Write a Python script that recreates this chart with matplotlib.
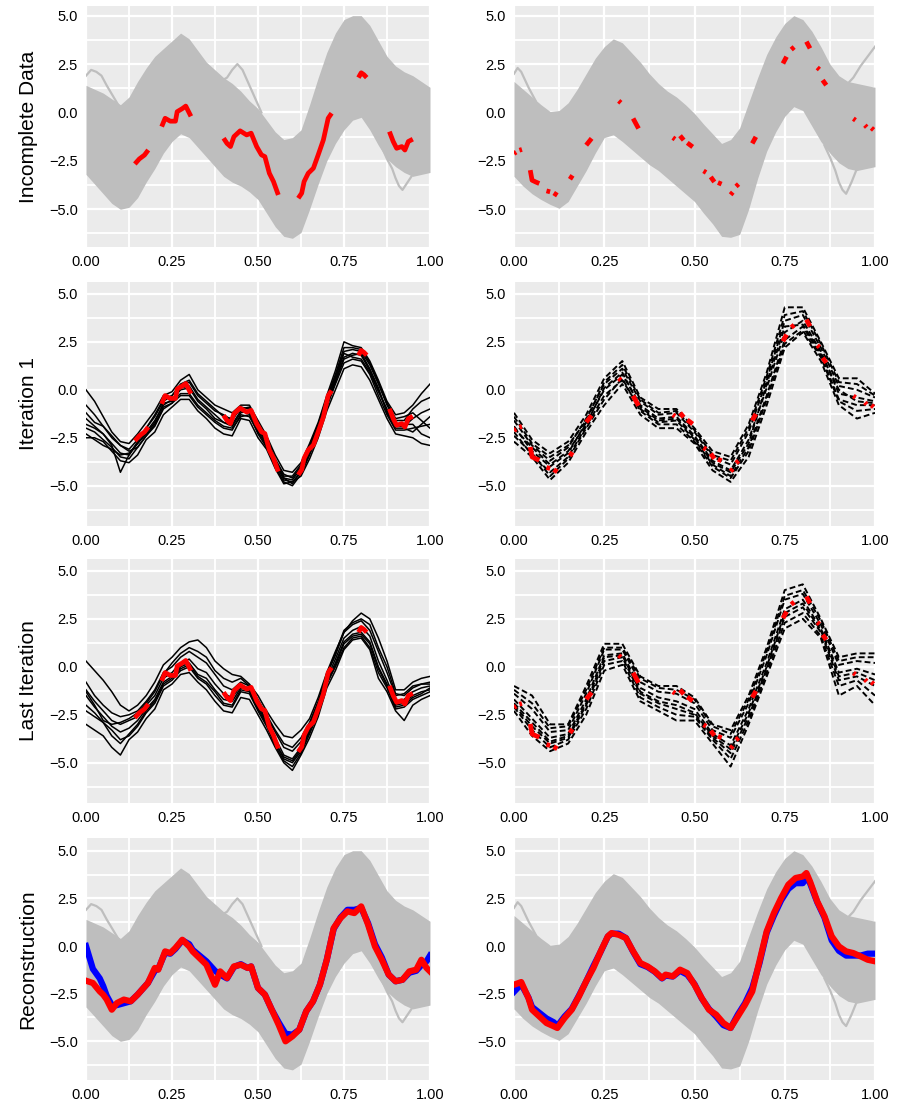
import numpy as np
import matplotlib
matplotlib.use("Agg")
import matplotlib.pyplot as plt

nan = np.nan
plt.rcParams['font.family'] = ['Liberation Sans', 'DejaVu Sans']

# ---------------- data ----------------
row_labels = ["Incomplete Data", "Iteration 1", "Last Iteration", "Reconstruction"]
xticks = [0.0, 0.25, 0.5, 0.75, 1.0]
yticks = [-5.0, -2.5, 0.0, 2.5, 5.0]

# gray band envelopes, x step 0.025
band_x = [0, .025, .05, .075, .1, .125, .15, .175, .2, .225, .25, .275, .3, .325, .35, .375, .4, .425, .45, .475,
          .5, .525, .55, .575, .6, .625, .65, .675, .7, .725, .75, .775, .8, .825, .85, .875, .9, .925, .95, .975, 1.0]
bandL_up = [1.4, 1.2, 1.0, 0.7, 0.4, 0.8, 1.6, 2.3, 2.9, 3.3, 3.7, 4.1, 3.8, 3.2, 2.6, 2.2, 1.8, 1.5, 1.1, 0.6,
            0.2, -0.4, -1.0, -1.4, -1.3, -0.9, 0.4, 1.8, 3.1, 4.1, 4.8, 5.0, 5.0, 4.5, 3.7, 2.9, 2.4, 2.1, 1.9, 1.6, 1.3]
bandL_lo = [-3.2, -3.7, -4.2, -4.7, -5.0, -4.9, -4.4, -3.6, -2.9, -2.1, -1.5, -1.1, -1.3, -1.8, -2.3, -2.8, -3.3,
            -3.6, -3.8, -4.1, -4.5, -5.2, -5.9, -6.4, -6.5, -6.2, -5.0, -3.7, -2.5, -1.6, -0.9, -0.4, -0.25, -0.9,
            -1.7, -2.4, -2.8, -3.1, -3.3, -3.2, -3.1]
bandR_up = [1.6, 1.2, 0.8, 0.4, 0.05, 0.1, 0.5, 1.2, 2.0, 2.8, 3.4, 3.8, 3.6, 3.1, 2.6, 2.0, 1.5, 1.1, 0.8, 0.4,
            -0.05, -0.6, -1.1, -1.6, -1.4, -0.8, 0.5, 1.8, 3.0, 3.9, 4.6, 5.0, 4.8, 4.2, 3.4, 2.5, 1.9, 1.6, 1.5, 1.4, 1.3]
bandR_lo = [-3.3, -3.8, -4.2, -4.5, -4.75, -4.95, -4.6, -3.8, -3.0, -2.1, -1.3, -1.15, -1.5, -1.9, -2.3, -2.7,
            -3.0, -3.4, -3.8, -4.2, -4.6, -5.2, -5.75, -6.4, -6.45, -6.3, -5.0, -3.4, -2.0, -1.0, -0.2, 0.3, 0.1,
            -0.7, -1.5, -2.1, -2.6, -2.9, -3.0, -2.9, -2.8]

# stray gray curves poking out of the band
strayL_x = [0.0, 0.015, 0.03, 0.045, 0.06, 0.08, 0.1]
strayL_y = [1.9, 2.2, 2.1, 1.9, 1.4, 0.8, 0.2]
strayL2_x = [0.39, 0.41, 0.425, 0.44, 0.455, 0.47, 0.49, 0.51]
strayL2_y = [1.6, 1.8, 2.2, 2.5, 2.2, 1.6, 0.8, 0.0]
strayL3_x = [0.86, 0.875, 0.89, 0.9, 0.91, 0.92, 0.935, 0.95]
strayL3_y = [-1.8, -2.4, -2.9, -3.4, -3.8, -4.0, -3.6, -3.2]
strayR_x = [0.92, 0.94, 0.96, 0.98, 1.0]
strayR_y = [1.4, 1.8, 2.4, 2.9, 3.4]
strayR2_x = [0.86, 0.875, 0.89, 0.9, 0.91, 0.92, 0.935, 0.95]
strayR2_y = [-1.7, -2.3, -3.0, -3.6, -4.0, -4.2, -3.6, -2.9]
strayR3_x = [0.0, 0.01, 0.02, 0.04, 0.06]
strayR3_y = [2.0, 2.3, 2.1, 1.3, 0.6]

# observed red data, left sample
redL_x = [0.142, 0.155, 0.17, 0.181, nan, 0.22, 0.23, 0.245, 0.26, 0.265, 0.28, 0.29, 0.305, nan,
          0.40, 0.41, 0.42, 0.43, 0.448, 0.467, 0.48, 0.496, 0.51, 0.52, 0.533, 0.545, 0.559, nan,
          0.617, 0.627, 0.634, 0.646, 0.661, 0.675, 0.69, 0.704, 0.714, nan,
          0.792, 0.80, 0.808, 0.816, nan, 0.882, 0.893, 0.903, 0.918, 0.927, 0.937, 0.95]
redL_y = [-2.66, -2.4, -2.2, -1.94, nan, -0.73, -0.3, -0.45, -0.45, 0.04, 0.2, 0.33, -0.2, nan,
          -1.33, -1.6, -1.76, -1.25, -0.95, -1.16, -1.07, -1.76, -2.19, -2.28, -3.14, -3.57, -4.26, nan,
          -4.43, -4.17, -3.57, -3.14, -2.88, -2.19, -1.42, -0.30, -0.04, nan,
          1.8, 2.05, 1.95, 1.8, nan, -0.99, -1.5, -1.85, -1.76, -1.94, -1.5, -1.38]

# observed red data, right sample
redR_x = [0.0, 0.006, nan, 0.015, 0.022, nan, 0.045, 0.05, 0.06, 0.07, nan, 0.09, 0.1, nan, 0.11, 0.12, nan,
          0.155, 0.162, nan, 0.2, 0.215, nan, 0.29, 0.296, nan, 0.33, 0.345, nan, 0.44, 0.446, nan,
          0.46, 0.47, nan, 0.48, 0.495, nan, 0.525, 0.532, nan, 0.545, 0.555, nan, 0.565, 0.575, nan,
          0.6, 0.606, nan, 0.615, 0.622, nan, 0.66, 0.67, nan, 0.745, 0.755, nan, 0.768, 0.776, nan,
          0.81, 0.82, nan, 0.84, 0.846, nan, 0.855, 0.865, nan, 0.94, 0.946, nan, 0.972, 0.977, nan, 0.99, 0.996]
redR_y = [-2.12, -2.05, nan, -1.95, -1.91, nan, -2.98, -3.5, -3.59, -3.67, nan, -4.05, -4.1, nan, -4.16, -4.28, nan,
          -3.45, -3.25, nan, -1.69, -1.34, nan, 0.6, 0.5, nan, -0.31, -0.83, nan, -1.3, -1.38, nan,
          -1.2, -1.43, nan, -1.57, -1.78, nan, -3.02, -3.1, nan, -3.33, -3.59, nan, -3.62, -3.7, nan,
          -4.25, -4.12, nan, -3.82, -3.7, nan, -1.6, -1.26, nan, 2.53, 2.88, nan, 3.25, 3.38, nan,
          3.66, 3.31, nan, 2.32, 2.22, nan, 1.67, 1.41, nan, -0.32, -0.4, nan, -0.66, -0.76, nan, -0.8, -0.9]

# imputed curves (black), left sample, x step 0.025
impL_x = band_x
iter1_left = [
    [0.0, -0.6, -1.4, -2.2, -2.7, -2.8, -2.3, -1.7, -1.1, -0.3, -0.1, 0.5, 0.8, 0.0, -0.4, -0.8, -1.0, -1.2, -0.8, -0.8,
     -1.6, -2.4, -3.4, -4.2, -4.3, -3.8, -2.8, -1.7, -0.3, 1.0, 2.5, 2.3, 2.2, 1.5, 0.5, -0.6, -1.3, -1.2, -0.8, -0.2, 0.3],
    [-0.8, -1.3, -1.9, -2.5, -2.9, -3.1, -2.6, -2.0, -1.3, -0.5, -0.3, 0.2, 0.4, -0.3, -0.7, -1.1, -1.3, -1.6, -0.9, -1.0,
     -1.8, -2.5, -3.6, -4.4, -4.6, -4.0, -3.0, -1.9, -0.5, 0.7, 2.0, 2.1, 2.0, 1.3, 0.3, -0.8, -1.6, -1.6, -1.0, -0.6, -0.4],
    [-1.5, -1.9, -2.3, -2.8, -3.3, -3.4, -2.8, -2.2, -1.6, -0.8, -0.5, 0.0, 0.1, -0.6, -1.0, -1.5, -1.7, -1.8, -1.1, -1.2,
     -2.0, -2.7, -3.8, -4.6, -4.9, -4.2, -3.2, -2.1, -0.7, 0.5, 1.7, 1.9, 1.8, 1.0, 0.0, -1.1, -1.9, -1.9, -1.5, -1.2, -1.0],
    [-2.0, -2.2, -2.6, -3.0, -3.5, -3.6, -3.0, -2.4, -1.9, -1.0, -0.7, -0.3, -0.3, -0.9, -1.3, -1.7, -2.0, -2.1, -1.3, -1.4,
     -2.2, -2.9, -4.0, -4.8, -5.0, -4.4, -3.4, -2.3, -0.9, 0.3, 1.4, 1.6, 1.5, 0.8, -0.3, -1.3, -2.1, -2.1, -2.0, -1.9, -1.8],
    [-2.5, -2.5, -2.7, -3.2, -3.7, -3.8, -3.4, -2.6, -2.2, -1.3, -0.9, -0.5, -0.5, -1.1, -1.5, -2.0, -2.3, -2.4, -1.5, -1.6,
     -2.5, -3.1, -4.1, -4.9, -4.8, -4.5, -3.6, -2.5, -1.1, 0.0, 1.1, 1.3, 1.2, 0.5, -0.5, -1.5, -2.3, -2.4, -2.5, -2.8, -2.9],
    [-1.8, -2.0, -2.3, -2.9, -4.3, -3.4, -2.7, -2.0, -1.4, -0.6, -0.3, 0.3, 0.5, -0.2, -0.6, -1.0, -1.4, -1.5, -1.0, -0.9,
     -1.9, -2.6, -3.7, -4.5, -4.5, -3.9, -2.9, -1.8, -0.4, 0.8, 2.2, 2.2, 2.1, 1.4, 0.4, -0.7, -1.5, -1.4, -1.2, -1.6, -2.0],
    [-1.2, -1.7, -1.9, -2.4, -2.9, -3.2, -3.0, -2.4, -1.8, -0.9, -0.7, 0.1, 0.2, -0.5, -0.9, -1.3, -1.7, -1.9, -1.2, -1.1,
     -2.1, -2.8, -3.9, -4.6, -4.7, -4.1, -3.1, -2.0, -0.6, 0.6, 1.9, 1.7, 1.6, 0.9, -0.1, -1.0, -1.8, -1.8, -1.8, -2.3, -2.5],
    [-2.3, -2.6, -2.9, -3.1, -3.4, -3.3, -2.8, -2.3, -1.7, -0.7, -0.6, -0.2, -0.2, -0.8, -1.2, -1.6, -1.9, -2.0, -1.4, -1.3,
     -2.3, -3.0, -3.8, -4.7, -4.8, -4.3, -3.3, -2.2, -0.8, 0.4, 1.6, 1.8, 1.9, 1.1, 0.1, -1.2, -2.0, -2.0, -2.2, -1.8, -1.4],
]
last_left = [
    [0.3, -0.2, -0.7, -1.3, -2.0, -2.3, -2.0, -1.5, -0.8, 0.1, 0.5, 1.0, 1.3, 1.4, 1.0, 0.3, -0.1, -0.4, -0.5, -0.9,
     -1.5, -2.3, -3.0, -3.6, -3.7, -3.3, -2.7, -1.6, -0.3, 0.8, 1.8, 2.4, 2.8, 2.5, 1.5, 0.3, -1.2, -1.2, -0.8, -0.6, -0.5],
    [-0.8, -1.5, -2.0, -2.4, -2.6, -2.5, -2.3, -1.8, -1.2, -0.3, 0.0, 0.5, 0.8, 0.5, 0.2, -0.4, -1.0, -1.2, -0.8, -1.0,
     -1.8, -2.6, -3.4, -4.2, -4.4, -3.9, -3.0, -1.9, -0.4, 0.6, 1.8, 2.2, 2.4, 1.9, 0.8, -0.3, -1.5, -1.4, -1.0, -0.9, -0.8],
    [-1.2, -1.8, -2.3, -2.8, -3.0, -2.8, -2.6, -2.0, -1.5, -0.6, -0.3, 0.2, 0.4, -0.1, -0.3, -0.9, -1.4, -1.6, -1.0, -1.1,
     -2.0, -2.8, -3.7, -4.6, -4.8, -4.2, -3.2, -2.1, -0.6, 0.4, 1.5, 1.9, 2.1, 1.6, 0.3, -0.7, -1.8, -1.7, -1.3, -1.1, -1.0],
    [-1.5, -2.1, -2.6, -3.1, -3.4, -3.2, -2.8, -2.2, -1.7, -0.8, -0.5, 0.0, 0.2, -0.4, -0.6, -1.2, -1.7, -1.8, -1.1, -1.2,
     -2.1, -2.9, -3.9, -4.8, -5.0, -4.4, -3.3, -2.2, -0.7, 0.2, 1.3, 1.7, 1.8, 1.3, 0.0, -0.9, -2.0, -1.9, -1.5, -1.3, -1.2],
    [-2.3, -2.6, -2.9, -3.3, -3.8, -3.6, -3.1, -2.4, -1.9, -1.0, -0.7, -0.2, 0.0, -0.6, -0.9, -1.5, -2.0, -2.1, -1.3, -1.4,
     -2.3, -3.1, -4.1, -4.9, -5.2, -4.5, -3.5, -2.4, -0.9, 0.0, 1.0, 1.5, 1.6, 1.0, -0.3, -1.1, -2.2, -2.1, -1.7, -1.5, -1.3],
    [-3.0, -3.3, -3.6, -4.2, -4.6, -3.8, -3.4, -2.7, -2.2, -1.2, -0.9, -0.4, -0.3, -0.8, -1.2, -1.8, -2.3, -2.4, -1.6, -1.7,
     -2.5, -3.3, -4.2, -5.0, -5.4, -4.6, -3.7, -2.6, -1.1, -0.2, 0.9, 1.4, 1.5, 0.9, -0.6, -1.3, -2.3, -2.8, -2.0, -1.7, -1.5],
    [-1.3, -2.0, -2.8, -3.0, -2.9, -2.7, -2.4, -1.9, -1.3, -0.4, 0.2, 0.7, 1.0, 0.8, 0.5, -0.2, -0.6, -0.8, -0.6, -1.0,
     -1.7, -2.5, -3.3, -4.0, -4.2, -3.7, -2.9, -1.8, -0.4, 0.7, 1.9, 2.3, 2.5, 2.2, 1.0, 0.0, -1.4, -1.5, -1.1, -0.9, -0.9],
    [-2.0, -2.4, -2.9, -3.6, -4.0, -3.5, -3.0, -2.3, -1.8, -0.9, -0.6, -0.1, 0.1, -0.5, -0.8, -1.3, -1.9, -2.0, -1.2, -1.3,
     -2.2, -3.0, -4.0, -4.7, -4.9, -4.3, -3.4, -2.3, -0.8, 0.1, 1.2, 1.6, 1.7, 1.2, -0.1, -1.0, -2.1, -2.0, -1.6, -1.4, -1.1],
]

# imputed curves (black), right sample, x step 0.05
impR_x = [0, .05, .1, .15, .2, .25, .3, .35, .4, .45, .5, .55, .6, .65, .7, .75, .8, .85, .9, .95, 1.0]
iter1_right = [
    [-1.2, -2.6, -3.3, -2.7, -1.3, 0.6, 1.5, -0.4, -1.0, -1.0, -2.0, -3.2, -3.5, -1.8, 0.9, 4.3, 4.3, 2.5, 0.6, 0.6, -0.2],
    [-1.6, -2.9, -3.7, -3.0, -1.5, 0.3, 1.1, -0.6, -1.3, -1.2, -2.2, -3.5, -3.9, -2.2, 0.5, 3.6, 3.9, 2.2, 0.2, 0.0, -0.4],
    [-1.9, -3.2, -4.0, -3.3, -1.7, 0.0, 0.8, -0.8, -1.5, -1.4, -2.4, -3.7, -4.2, -2.6, 0.1, 3.0, 3.6, 2.0, -0.2, -0.4, -0.6],
    [-2.2, -3.4, -4.3, -3.5, -1.9, -0.3, 0.5, -1.0, -1.7, -1.6, -2.6, -3.9, -4.5, -3.0, -0.3, 2.6, 3.3, 1.8, -0.5, -0.8, -0.8],
    [-2.7, -3.5, -4.7, -3.8, -2.2, -0.8, 0.3, -1.3, -2.0, -2.0, -2.8, -4.2, -4.8, -3.5, -0.8, 2.2, 3.0, 1.5, -0.8, -1.5, -1.2],
    [-1.4, -2.8, -3.5, -2.9, -1.6, 0.4, 1.3, -0.5, -1.2, -1.1, -2.1, -3.4, -3.7, -2.0, 0.7, 3.9, 4.1, 2.4, 0.4, 0.3, -0.3],
    [-2.0, -3.0, -3.9, -3.2, -1.8, 0.1, 0.9, -0.9, -1.6, -1.5, -2.5, -3.8, -4.3, -2.8, 0.3, 3.3, 3.4, 1.9, 0.0, -0.6, -0.7],
    [-2.4, -3.3, -4.5, -3.6, -2.0, -0.5, 0.6, -1.1, -1.8, -1.8, -2.7, -4.0, -4.6, -3.2, -0.5, 2.4, 3.1, 1.7, -0.6, -1.1, -1.0],
]
last_right = [
    [-1.0, -1.5, -3.0, -3.0, -1.0, 1.2, 1.2, -0.5, -1.0, -1.0, -1.6, -3.0, -3.3, -1.5, 1.0, 4.0, 4.3, 2.5, 0.5, 0.7, 0.7],
    [-1.4, -2.2, -3.4, -3.3, -1.4, 0.9, 0.9, -0.8, -1.3, -1.4, -1.9, -3.3, -3.7, -1.9, 0.6, 3.5, 3.8, 2.2, 0.1, 0.3, 0.2],
    [-1.7, -2.7, -3.7, -3.5, -1.7, 0.6, 0.7, -1.1, -1.6, -1.8, -2.2, -3.5, -4.1, -2.2, 0.2, 3.0, 3.5, 2.0, -0.3, -0.1, -0.4],
    [-2.0, -3.1, -4.0, -3.7, -2.0, 0.3, 0.5, -1.4, -1.9, -2.2, -2.5, -3.7, -4.5, -2.6, -0.1, 2.6, 3.1, 1.8, -0.7, -0.5, -1.0],
    [-2.3, -3.6, -4.4, -4.0, -2.5, -0.2, 0.1, -1.8, -2.3, -2.8, -2.8, -4.0, -5.2, -3.0, -0.5, 2.0, 2.5, 1.5, -1.5, -1.0, -2.0],
    [-1.2, -1.9, -3.2, -3.1, -1.2, 1.0, 1.0, -0.6, -1.1, -1.2, -1.7, -3.1, -3.5, -1.7, 0.8, 3.7, 4.0, 2.4, 0.3, 0.5, 0.5],
    [-1.9, -2.9, -3.9, -3.6, -1.9, 0.5, 0.6, -1.3, -1.8, -2.0, -2.4, -3.6, -4.3, -2.4, 0.0, 2.8, 3.3, 1.9, -0.5, -0.3, -0.7],
    [-2.1, -3.3, -4.2, -3.8, -2.2, 0.1, 0.3, -1.6, -2.1, -2.5, -2.6, -3.8, -4.8, -2.8, -0.3, 2.3, 2.8, 1.6, -1.0, -0.7, -1.5],
]

# reconstruction (red) and truth (blue), left sample
recL_x = [0, .02, .04, .05, .06, .075, .09, .11, .13, .15, .18, .2, .21, .23, .245, .26, .28, .3, .31, .33, .35, .375, .39,
          .41, .43, .45, .47, .48, .5, .52, .54, .56, .58, .6, .62, .64, .66, .68, .7, .72, .74, .76, .78, .8, .82, .84,
          .86, .88, .9, .92, .94, .96, .975, .99, 1.0]
recL_y = [-1.82, -1.94, -2.38, -2.55, -2.8, -3.34, -2.99, -2.81, -2.9, -2.55, -1.94, -1.15, -1.24, -0.28, -0.37, -0.1,
          0.33, -0.02, -0.28, -0.63, -0.98, -2.03, -1.33, -1.68, -1.07, -0.98, -1.15, -1.07, -2.2, -2.55, -3.34, -4.13,
          -5.0, -4.74, -4.39, -3.43, -2.9, -2.03, -0.72, 0.94, 1.47, 1.82, 1.73, 2.08, 1.12, -0.02, -0.72, -1.5, -1.85,
          -1.77, -1.33, -1.24, -0.72, -1.15, -1.33]
trueL_y = [0.0, -1.2, -1.7, -2.1, -2.6, -3.1, -3.1, -3.0, -2.9, -2.55, -1.94, -1.3, -1.2, -0.35, -0.4, -0.15,
           0.3, 0.1, -0.2, -0.5, -0.8, -1.3, -1.5, -1.7, -1.1, -0.95, -1.15, -1.07, -2.2, -2.55, -3.34, -4.0,
           -4.6, -4.65, -4.39, -3.43, -2.9, -2.03, -0.72, 0.9, 1.5, 1.9, 1.9, 2.0, 1.2, 0.1, -0.6, -1.5, -1.85,
           -1.77, -1.4, -1.3, -1.0, -0.8, -0.5]

# reconstruction (red) and truth (blue), right sample
recR_x = [0, .02, .04, .05, .07, .09, .11, .12, .14, .16, .18, .2, .22, .24, .26, .27, .29, .31, .33, .35, .37, .39,
          .41, .42, .44, .46, .48, .5, .52, .54, .56, .58, .6, .62, .64, .66, .68, .7, .72, .74, .76, .78, .8, .81,
          .82, .84, .86, .88, .9, .92, .94, .96, .98, 1.0]
recR_y = [-2.03, -1.89, -2.73, -3.34, -3.69, -4.04, -4.21, -4.3, -3.78, -3.34, -2.64, -1.85, -1.15, -0.28, 0.51, 0.68,
          0.59, 0.42, -0.28, -0.89, -1.07, -1.33, -1.68, -1.5, -1.59, -1.24, -1.42, -2.03, -2.73, -3.34, -3.6, -4.04,
          -4.3, -3.69, -3.08, -2.38, -0.8, 0.77, 1.73, 2.52, 3.22, 3.57, 3.65, 3.83, 3.39, 2.34, 1.56, 0.51, -0.02,
          -0.28, -0.37, -0.54, -0.72, -0.8]
trueR_y = [-2.4, -2.0, -2.7, -3.2, -3.5, -3.8, -4.0, -4.2, -3.7, -3.3, -2.6, -1.85, -1.05, -0.3, 0.5, 0.65,
           0.65, 0.42, -0.3, -0.95, -1.1, -1.35, -1.7, -1.55, -1.6, -1.3, -1.5, -2.0, -2.75, -3.3, -3.7, -4.15,
           -4.3, -3.6, -3.0, -2.2, -0.9, 0.7, 1.6, 2.4, 3.0, 3.3, 3.3, 3.6, 3.3, 2.3, 1.5, 0.3, -0.25,
           -0.5, -0.5, -0.5, -0.4, -0.4]

# ---------------- style ----------------
BG = '#EBEBEB'
GRAY = '#BEBEBE'
RED = '#FF0000'
BLUE = '#0000FF'

fig = plt.figure(figsize=(8.99, 11.08), dpi=100)
W, H = 899, 1108
cols = [(86, 430), (514, 875)]
rows = [(6, 247), (282, 526), (559, 803), (838, 1080)]
ylims = [(-6.95, 5.5), (-7.1, 5.62), (-7.1, 5.62), (-7.03, 5.67)]


def style(ax, r):
    ax.set_facecolor(BG)
    for s in ax.spines.values():
        s.set_visible(False)
    ax.set_xlim(0, 1)
    ax.set_ylim(*ylims[r])
    ax.set_xticks(xticks)
    ax.set_xticklabels(['%.2f' % v for v in xticks])
    ax.set_yticks(yticks)
    ax.set_yticklabels([('%.1f' % v).replace('-', '\u2212') for v in yticks])
    ax.set_xticks([0.125, 0.375, 0.625, 0.875], minor=True)
    ax.set_yticks([-6.25, -3.75, -1.25, 1.25, 3.75], minor=True)
    ax.grid(which='major', color='white', lw=1.6)
    ax.grid(which='minor', color='white', lw=1.3)
    ax.set_axisbelow(True)
    ax.tick_params(which='both', length=0, labelsize=10.5, labelcolor='black')
    ax.tick_params(axis='x', pad=6)
    ax.tick_params(axis='y', pad=6)


def band(ax, up, lo, strays):
    ax.fill_between(band_x, lo, up, color=GRAY, lw=0)
    for sx, sy in strays:
        ax.plot(sx, sy, color=GRAY, lw=1.6)


for r in range(4):
    for c in range(2):
        x0, x1 = cols[c]
        t, b = rows[r]
        ax = fig.add_axes([x0 / W, 1 - b / H, (x1 - x0) / W, (b - t) / H])
        style(ax, r)
        if c == 0:
            ax.set_ylabel(row_labels[r], fontsize=15, labelpad=8)
        left = (c == 0)
        strays = [(strayL_x, strayL_y), (strayL2_x, strayL2_y), (strayL3_x, strayL3_y)] if left else \
                 [(strayR_x, strayR_y), (strayR2_x, strayR2_y), (strayR3_x, strayR3_y)]
        up, lo = (bandL_up, bandL_lo) if left else (bandR_up, bandR_lo)
        rx, ry = (redL_x, redL_y) if left else (redR_x, redR_y)
        if r == 0:
            band(ax, up, lo, strays)
            ax.plot(rx, ry, color=RED, lw=3.4, solid_capstyle='butt')
        elif r in (1, 2):
            if left:
                curves = iter1_left if r == 1 else last_left
                for cy in curves:
                    ax.plot(impL_x, cy, color='black', lw=1.1)
            else:
                curves = iter1_right if r == 1 else last_right
                for cy in curves:
                    ax.plot(impR_x, cy, color='black', lw=1.4, ls=(0, (3, 1.6)))
            ax.plot(rx, ry, color=RED, lw=3.4, solid_capstyle='butt')
        else:
            band(ax, up, lo, strays)
            if left:
                ax.plot(recL_x, trueL_y, color=BLUE, lw=4.5)
                ax.plot(recL_x, recL_y, color=RED, lw=4.5)
            else:
                ax.plot(recR_x, trueR_y, color=BLUE, lw=4.5)
                ax.plot(recR_x, recR_y, color=RED, lw=4.5)

fig.savefig('out.png', dpi=100)
